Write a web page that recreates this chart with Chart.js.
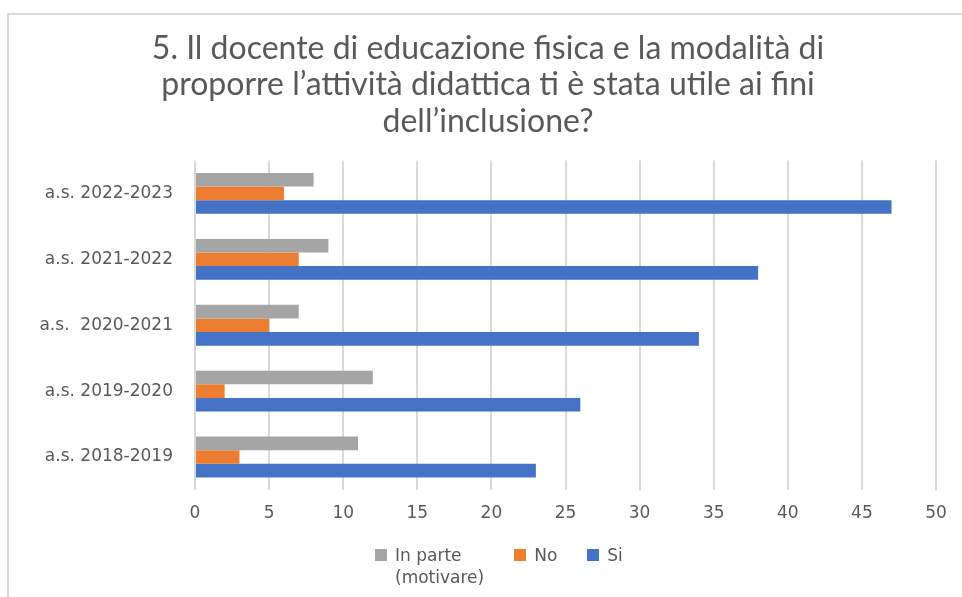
<!DOCTYPE html>
<html>
<head>
<meta charset="utf-8">
<script src="https://cdn.jsdelivr.net/npm/chart.js@4"></script>
<style>
    html, body { margin: 0; padding: 0; background: #fff; }
    #wrap { position: relative; width: 962px; height: 597px; overflow: hidden; }
    #frame { position: absolute; left: 7px; top: 13px; width: 1000px; height: 1000px; border: 2px solid #d9d9d9; box-sizing: border-box; }
    #chart { position: absolute; left: 0; top: 0; }
    #legend { position: absolute; left: 375px; top: 544px; display: flex; gap: 30px;
              font-family: 'DejaVu Sans', sans-serif; font-size: 17px; line-height: 22px; color: #595959; }
    #legend .item { display: flex; align-items: flex-start; }
    #legend .box { width: 12px; height: 12px; margin-top: 5px; margin-right: 8px; flex: none; }
</style>
</head>
<body>
<div id="wrap">
    <div id="frame"></div>
    <canvas id="chart" width="962" height="597"></canvas>
    <div id="legend"></div>
</div>
<script>
// categories, top to bottom as in the picture
const years = ['a.s. 2022-2023', 'a.s. 2021-2022', 'a.s.  2020-2021', 'a.s. 2019-2020', 'a.s. 2018-2019'];
const seriesNames = ['In parte\n(motivare)', 'No', 'Si'];
const seriesColors = ['#A5A5A5', '#ED7D31', '#4472C4'];
const inParte = [8, 9, 7, 12, 11];
const no = [6, 7, 5, 2, 3];
const si = [47, 38, 34, 26, 23];
const xTicks = [0, 5, 10, 15, 20, 25, 30, 35, 40, 45, 50];

const textColor = '#595959';
const tickFont = { family: 'DejaVu Sans', size: 17 };

const ctx = document.getElementById('chart').getContext('2d');
const chart = new Chart(ctx, {
    type: 'bar',
    data: {
        labels: years,
        datasets: [
            { label: seriesNames[0], data: inParte, backgroundColor: seriesColors[0] },
            { label: seriesNames[1], data: no, backgroundColor: seriesColors[1] },
            { label: seriesNames[2], data: si, backgroundColor: seriesColors[2] }
        ]
    },
    options: {
        indexAxis: 'y',
        responsive: false,
        animation: false,
        datasets: {
            bar: { barPercentage: 1, categoryPercentage: 0.62 }
        },
        layout: { padding: { left: 40, right: 26, top: 0, bottom: 67 } },
        scales: {
            x: {
                min: 0,
                max: 50,
                afterBuildTicks: (scale) => { scale.ticks = xTicks.map(v => ({ value: v })); },
                afterFit: (scale) => { scale.height = 40; },
                ticks: { color: textColor, font: tickFont, padding: 13 },
                grid: { color: '#d9d9d9', lineWidth: 2, drawTicks: false },
                border: { display: false }
            },
            y: {
                afterFit: (scale) => { scale.width = 155; },
                ticks: { color: textColor, font: tickFont, padding: 22 },
                grid: { display: false, drawTicks: false },
                border: { display: false }
            }
        },
        plugins: {
            title: {
                display: true,
                text: [
                    '5. Il docente di educazione fisica e la modalità di',
                    'proporre l\u2019attività didattica ti è stata utile ai fini',
                    'dell\u2019inclusione?'
                ],
                color: textColor,
                font: { family: 'Lato', size: 32, weight: 'normal', lineHeight: 1.14 },
                padding: { top: 30, bottom: 21 }
            },
            legend: { display: false },
            tooltip: { enabled: false }
        }
    }
});

// html legend built from the datasets
const legendEl = document.getElementById('legend');
chart.data.datasets.forEach(ds => {
    const item = document.createElement('div');
    item.className = 'item';
    const box = document.createElement('span');
    box.className = 'box';
    box.style.background = ds.backgroundColor;
    const txt = document.createElement('span');
    txt.innerHTML = ds.label.split('\n').join('<br>');
    item.appendChild(box);
    item.appendChild(txt);
    legendEl.appendChild(item);
});
</script>
</body>
</html>
